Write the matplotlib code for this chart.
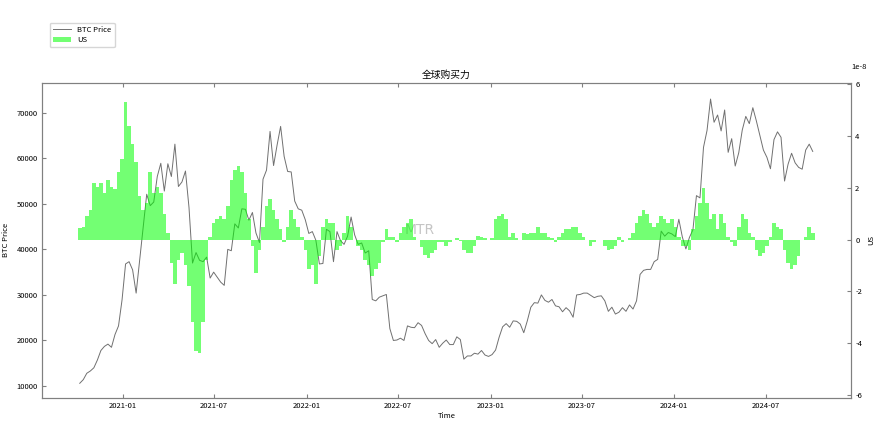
import matplotlib
matplotlib.use("Agg")
import matplotlib.pyplot as plt
import matplotlib.dates as mdates
import pandas as pd
import numpy as np

plt.rcParams['font.family'] = ['Noto Sans CJK SC', 'DejaVu Sans']
plt.rcParams['axes.unicode_minus'] = False

# weekly dates (Wednesdays)
dates = pd.date_range('2020-10-07', periods=209, freq='7D')

btc_2020 = [10600, 11400, 12800, 13300, 14000, 15700, 17800, 18700, 19200, 18500,
            21300, 23200, 28900]
btc_2021 = [36800, 37300, 35500, 30400, 37600, 44800, 52100, 49600, 50400, 56000,
            58900, 52800, 58800, 56000, 63100, 53800, 54800, 57200, 49200, 37000,
            39300, 37600, 37300, 38300, 33700, 35000, 33900, 32800, 32100, 40000,
            39700, 45600, 44700, 48900, 48800, 46400, 48100, 43600, 41500, 55400,
            57400, 65900, 58400, 62900, 67000, 60400, 57100, 57000, 50600, 48900,
            48600, 46500]
btc_2022 = [43500, 43900, 42000, 36800, 36900, 44400, 43900, 37300, 43900, 41900,
            41100, 42900, 47100, 43200, 41100, 41400, 39200, 39700, 29000, 28700,
            29500, 29800, 30100, 22600, 20000, 20100, 20500, 20000, 23200, 22900,
            22800, 23900, 23300, 21500, 20000, 19300, 20200, 18500, 19400, 20100,
            19100, 19100, 20800, 20200, 15900, 16600, 16600, 17200, 17000, 17800,
            16800, 16500]
btc_2023 = [16900, 17900, 20700, 23000, 23700, 22900, 24300, 24200, 23600, 21700,
            24300, 27300, 28300, 28200, 30000, 28800, 28400, 29000, 27600, 27400,
            26300, 27200, 26500, 25100, 30000, 30100, 30400, 30400, 29900, 29400,
            29700, 29800, 28700, 26400, 27300, 25800, 26200, 27200, 26400, 27800,
            26900, 28700, 34500, 35400, 35600, 35600, 37300, 37800, 44000, 42900,
            43700, 43400]
btc_2024 = [42800, 46600, 42700, 40100, 42600, 44300, 51800, 51300, 62400, 66100,
            73000, 67900, 69500, 66000, 70600, 61300, 64300, 58300, 61200, 66200,
            69200, 67600, 71100, 68200, 65000, 61800, 60200, 57700, 64100, 65800,
            64600, 55000, 58700, 61100, 59000, 58000, 57600, 61800, 63100, 61500]

us_2020 = [0.45, 0.5, 0.9, 1.15, 2.2, 2.05, 2.2, 1.8, 2.3, 2.05,
           1.95, 2.6, 3.1]
us_2021 = [5.3, 4.4, 3.7, 3.0, 1.7, 1.15, 1.4, 2.6, 1.8, 2.05,
           1.8, 1.0, 0.25, -0.9, -1.7, -0.8, -0.5, -1.0, -1.8, -3.2,
           -4.3, -4.4, -3.2, -0.8, 0.1, 0.65, 0.8, 0.9, 0.8, 1.3,
           2.3, 2.7, 2.85, 2.6, 1.8, 0.8, -0.25, -1.3, -0.4, 0.5,
           1.3, 1.55, 1.15, 0.8, 0.4, -0.1, 0.5, 1.15, 0.8, 0.5,
           0.1, -0.4]
us_2022 = [-1.15, -1.0, -1.7, -0.65, 0.5, 0.8, 0.65, 0.65, -0.4, -0.25,
           0.25, 0.9, 0.5, 0.0, -0.25, -0.4, -0.8, -1.0, -1.4, -1.15,
           -0.9, -0.1, 0.4, 0.1, 0.1, -0.1, 0.25, 0.5, 0.65, 0.8,
           0.1, 0.0, -0.3, -0.6, -0.7, -0.5, -0.4, -0.1, -0.1, -0.25,
           -0.1, 0.0, 0.05, -0.05, -0.4, -0.5, -0.5, -0.25, 0.15, 0.1,
           0.05, 0.0]
us_2023 = [0.05, 0.8, 0.9, 1.0, 0.8, 0.1, 0.25, 0.05, 0.0, 0.25,
           0.2, 0.25, 0.25, 0.5, 0.25, 0.25, 0.1, 0.05, -0.1, 0.1,
           0.25, 0.4, 0.4, 0.5, 0.5, 0.25, 0.1, 0.0, -0.25, -0.1,
           0.0, 0.0, -0.25, -0.4, -0.35, -0.25, 0.1, -0.1, 0.0, 0.05,
           0.25, 0.65, 0.9, 1.15, 1.0, 0.65, 0.5, 0.65, 0.9, 0.8,
           0.65, 0.8]
us_2024 = [0.5, 0.1, -0.25, -0.25, -0.4, 0.4, 0.9, 1.4, 2.0, 1.4,
           0.8, 1.0, 0.4, 1.0, 0.65, 0.1, -0.1, -0.25, 0.5, 1.0,
           0.8, 0.25, 0.1, -0.4, -0.65, -0.5, -0.25, 0.1, 0.65, 0.5,
           0.4, -0.4, -0.9, -1.15, -1.0, -0.65, 0.0, 0.1, 0.5, 0.25]

btc_price = btc_2020 + btc_2021 + btc_2022 + btc_2023 + btc_2024
us_values = np.array(us_2020 + us_2021 + us_2022 + us_2023 + us_2024) * 1e-8

fig = plt.figure(figsize=(8.86, 4.24), dpi=100)
ax = fig.add_axes([0.0474, 0.0625, 0.9131, 0.7417])
ax2 = ax.twinx()

line, = ax.plot(dates, btc_price, color='#707070', lw=0.7, label='BTC Price')
bars = ax2.bar(dates, us_values, width=7, color='lime', alpha=0.55, linewidth=0, label='US')

ax.set_xlim(pd.Timestamp('2020-07-24'), pd.Timestamp('2024-12-17'))
ax.set_ylim(7480, 76520)
ax2.set_ylim(-6.1e-8, 6.05e-8)
ax2.set_yticks(np.arange(-6, 7, 2) * 1e-8)

ax.xaxis.set_major_locator(mdates.MonthLocator(bymonth=[1, 7]))
ax.xaxis.set_major_formatter(mdates.DateFormatter('%Y-%m'))
ax.set_yticks(np.arange(10000, 70001, 10000))

fs = 5.5
spc = '#808080'
for a in (ax, ax2):
    for s in a.spines.values():
        s.set_color(spc)
        s.set_linewidth(0.8)
ax.tick_params(axis='x', direction='in', top=True, labelsize=fs, length=3, color=spc, pad=3)
ax.tick_params(axis='y', direction='in', labelsize=fs, length=3, color=spc, pad=3)
ax2.tick_params(axis='y', direction='in', labelsize=fs, length=3, color=spc, pad=3)
ax2.yaxis.get_offset_text().set_visible(False)
fig.text(851 / 886, 1 - 67 / 424, '1e-8', fontsize=fs, ha='left', va='center')

ax.set_xlabel('Time', fontsize=fs, labelpad=2)
ax.set_ylabel('BTC Price', fontsize=fs, labelpad=5)
ax2.set_ylabel('US', fontsize=fs, labelpad=4)
ax.set_title('全球购买力', fontsize=7, pad=4)

ax.text(0.467, 0.532, 'MTR', transform=ax.transAxes, fontsize=10, color='gray',
        alpha=0.45, ha='center', va='center', family='DejaVu Sans')

fig.legend(handles=[line, bars], labels=['BTC Price', 'US'], loc='upper left',
           bbox_to_anchor=(0.052, 0.955), fontsize=fs, frameon=True,
           edgecolor='#cccccc', fancybox=True, handlelength=2.4, borderpad=0.4,
           labelspacing=0.3)

fig.savefig('out.png', dpi=100)
